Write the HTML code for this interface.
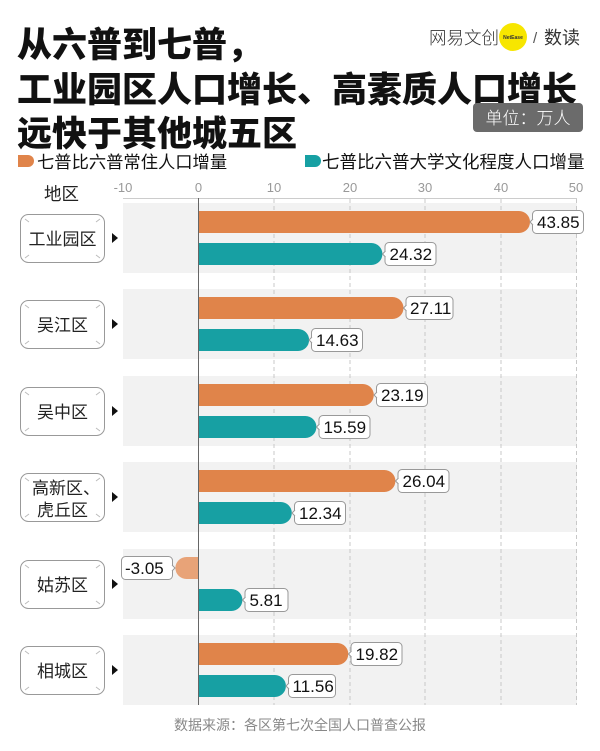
<!DOCTYPE html>
<html><head><meta charset="utf-8"><style>
html,body{margin:0;padding:0;background:#fff;}
svg{display:block;}
text{font-family:"Liberation Sans","Noto Sans CJK SC",sans-serif;}
.cjk{font-family:"Noto Sans CJK SC","WenQuanYi Zen Hei",sans-serif;}
</style></head><body>
<svg width="600" height="751" viewBox="0 0 600 751" xmlns="http://www.w3.org/2000/svg">
<rect width="600" height="751" fill="#fff"/>
<!-- Title -->
<g class="cjk" font-size="35" font-weight="900" fill="#111">
<text x="17" y="57" class="cjk">从六普到七普，</text>
<text x="17" y="102" class="cjk">工业园区人口增长、高素质人口增长</text>
<text x="17" y="146" class="cjk">远快于其他城五区</text>
</g>
<!-- Logo -->
<text x="429" y="44" font-size="17.5" fill="#333" class="cjk" font-weight="300">网易文创</text>
<circle cx="513" cy="37" r="14" fill="#f7e600"/>
<text x="513" y="39" font-size="5" fill="#333" text-anchor="middle" font-weight="bold">NetEase</text>
<text x="533" y="43" font-size="15" fill="#555">/</text>
<text x="544" y="44" font-size="18" fill="#333" class="cjk">数读</text>
<!-- Unit box -->
<rect x="473" y="103" width="110" height="29" rx="4" fill="#6b6b6b"/>
<text x="528" y="124" font-size="17" fill="#fff" text-anchor="middle" class="cjk" font-weight="300">单位：万人</text>
<!-- Legend -->
<path d="M18 155 H28 A6 6 0 0 1 28 167 H18 Z" fill="#e0844a"/>
<text x="37" y="168" font-size="17.3" fill="#111" class="cjk">七普比六普常住人口增量</text>
<path d="M305 155 H315 A6 6 0 0 1 315 167 H305 Z" fill="#17a0a3"/>
<text x="322" y="168" font-size="17.5" fill="#111" class="cjk">七普比六普大学文化程度人口增量</text>
<!-- Header -->
<text x="44" y="200" font-size="17.5" fill="#222" class="cjk">地区</text>
<!-- Tick labels -->
<g font-size="13" fill="#999" text-anchor="middle">
<text x="123" y="192">-10</text>
<text x="198.5" y="192">0</text>
<text x="274" y="192">10</text>
<text x="350" y="192">20</text>
<text x="425" y="192">30</text>
<text x="501" y="192">40</text>
<text x="576" y="192">50</text>
</g>
<!-- Bands -->
<g fill="#f2f2f2">
<rect x="123" y="203" width="454" height="70"/>
<rect x="123" y="289" width="454" height="70"/>
<rect x="123" y="376" width="454" height="70"/>
<rect x="123" y="462" width="454" height="70"/>
<rect x="123" y="549" width="454" height="70"/>
<rect x="123" y="635" width="454" height="70"/>
</g>
<line x1="123" y1="198.5" x2="577" y2="198.5" stroke="#ccc" stroke-width="1"/>
<g stroke="#c8c8c8" stroke-width="1" stroke-dasharray="4 3">
<line x1="274" y1="199" x2="274" y2="705"/>
<line x1="350" y1="199" x2="350" y2="705"/>
<line x1="425" y1="199" x2="425" y2="705"/>
<line x1="501" y1="199" x2="501" y2="705"/>
<line x1="576.5" y1="199" x2="576.5" y2="705"/>
</g>
<!-- Bars -->
<g fill="#e0844a">
<path d="M198.5 211 H519 A11 11 0 0 1 519 233 H198.5 Z"/>
<path d="M198.5 297 H392.5 A11 11 0 0 1 392.5 319 H198.5 Z"/>
<path d="M198.5 384 H362.8 A11 11 0 0 1 362.8 406 H198.5 Z"/>
<path d="M198.5 470 H384.4 A11 11 0 0 1 384.4 492 H198.5 Z"/>
<path d="M198.5 643 H337.3 A11 11 0 0 1 337.3 665 H198.5 Z"/>
</g>
<path d="M198.5 557 H186.4 A11 11 0 0 0 186.4 579 H198.5 Z" fill="#e8a378"/>
<g fill="#17a0a3">
<path d="M198.5 243 H371.4 A11 11 0 0 1 371.4 265 H198.5 Z"/>
<path d="M198.5 329 H298.1 A11 11 0 0 1 298.1 351 H198.5 Z"/>
<path d="M198.5 416 H305.4 A11 11 0 0 1 305.4 438 H198.5 Z"/>
<path d="M198.5 502 H280.8 A11 11 0 0 1 280.8 524 H198.5 Z"/>
<path d="M198.5 589 H231.4 A11 11 0 0 1 231.4 611 H198.5 Z"/>
<path d="M198.5 675 H274.9 A11 11 0 0 1 274.9 697 H198.5 Z"/>
</g>
<line x1="198.5" y1="198" x2="198.5" y2="705" stroke="#666" stroke-width="1"/>
<!-- Value bubbles -->
<g fill="#fff" stroke="#999" stroke-width="1">
<rect x="532.5" y="210.5" width="51" height="23" rx="4"/>
<rect x="385" y="242.5" width="51" height="23" rx="4"/>
<rect x="406" y="296.5" width="47" height="23" rx="4"/>
<rect x="311.5" y="328.5" width="51" height="23" rx="4"/>
<rect x="376.5" y="383.5" width="51" height="23" rx="4"/>
<rect x="319" y="415.5" width="51" height="23" rx="4"/>
<rect x="398" y="469.5" width="51" height="23" rx="4"/>
<rect x="294.5" y="501.5" width="51" height="23" rx="4"/>
<rect x="121.5" y="556.5" width="51" height="23" rx="4"/>
<rect x="245" y="588.5" width="43" height="23" rx="4"/>
<rect x="351" y="642.5" width="51" height="23" rx="4"/>
<rect x="288.5" y="674.5" width="47" height="23" rx="4"/>
</g>
<g fill="#fff" stroke="#999" stroke-width="1">
<path d="M533 219 L530 222 L533 225"/>
<path d="M385.5 251 L382.5 254 L385.5 257"/>
<path d="M406.5 305 L403.5 308 L406.5 311"/>
<path d="M312 337 L309 340 L312 343"/>
<path d="M377 392 L374 395 L377 398"/>
<path d="M319.5 424 L316.5 427 L319.5 430"/>
<path d="M398.5 478 L395.5 481 L398.5 484"/>
<path d="M295 510 L292 513 L295 516"/>
<path d="M172 565 L175 568 L172 571"/>
<path d="M245.5 597 L242.5 600 L245.5 603"/>
<path d="M351.5 651 L348.5 654 L351.5 657"/>
<path d="M289 683 L286 686 L289 689"/>
</g>
<g font-size="17" fill="#111">
<text x="537" y="228">43.85</text>
<text x="389.5" y="260">24.32</text>
<text x="410" y="314">27.11</text>
<text x="316" y="346">14.63</text>
<text x="381" y="401">23.19</text>
<text x="323.5" y="433">15.59</text>
<text x="402.5" y="487">26.04</text>
<text x="299" y="519">12.34</text>
<text x="125" y="574">-3.05</text>
<text x="249.5" y="606">5.81</text>
<text x="355.5" y="660">19.82</text>
<text x="292.5" y="692">11.56</text>
</g>
<!-- Region label boxes -->
<g fill="#fff" stroke="#999" stroke-width="1">
<rect x="20.5" y="214.5" width="84" height="48" rx="8"/>
<rect x="20.5" y="300.5" width="84" height="48" rx="8"/>
<rect x="20.5" y="387.5" width="84" height="48" rx="8"/>
<rect x="20.5" y="473.5" width="84" height="48" rx="8"/>
<rect x="20.5" y="560.5" width="84" height="48" rx="8"/>
<rect x="20.5" y="646.5" width="84" height="48" rx="8"/>
</g>
<g stroke="#bbb" stroke-width="1">
<path d="M25 219 l4 3 M100 219 l-4 3 M25 258 l4 -3 M100 258 l-4 -3"/>
<path d="M25 305 l4 3 M100 305 l-4 3 M25 344 l4 -3 M100 344 l-4 -3"/>
<path d="M25 392 l4 3 M100 392 l-4 3 M25 431 l4 -3 M100 431 l-4 -3"/>
<path d="M25 478 l4 3 M100 478 l-4 3 M25 517 l4 -3 M100 517 l-4 -3"/>
<path d="M25 565 l4 3 M100 565 l-4 3 M25 604 l4 -3 M100 604 l-4 -3"/>
<path d="M25 651 l4 3 M100 651 l-4 3 M25 690 l4 -3 M100 690 l-4 -3"/>
</g>
<g font-size="17" fill="#222" text-anchor="middle" class="cjk">
<text x="62.5" y="245" class="cjk">工业园区</text>
<text x="62.5" y="331" class="cjk">吴江区</text>
<text x="62.5" y="418" class="cjk">吴中区</text>
<text x="66" y="494" class="cjk">高新区、</text>
<text x="62.5" y="516" class="cjk">虎丘区</text>
<text x="62.5" y="591" class="cjk">姑苏区</text>
<text x="62.5" y="677" class="cjk">相城区</text>
</g>
<g fill="#111">
<polygon points="112,233 118,238 112,243"/>
<polygon points="112,319 118,324 112,329"/>
<polygon points="112,406 118,411 112,416"/>
<polygon points="112,492 118,497 112,502"/>
<polygon points="112,579 118,584 112,589"/>
<polygon points="112,665 118,670 112,675"/>
</g>
<!-- Source -->
<text x="300" y="730" font-size="14" fill="#888" text-anchor="middle" class="cjk">数据来源：各区第七次全国人口普查公报</text>
</svg>
</body></html>
